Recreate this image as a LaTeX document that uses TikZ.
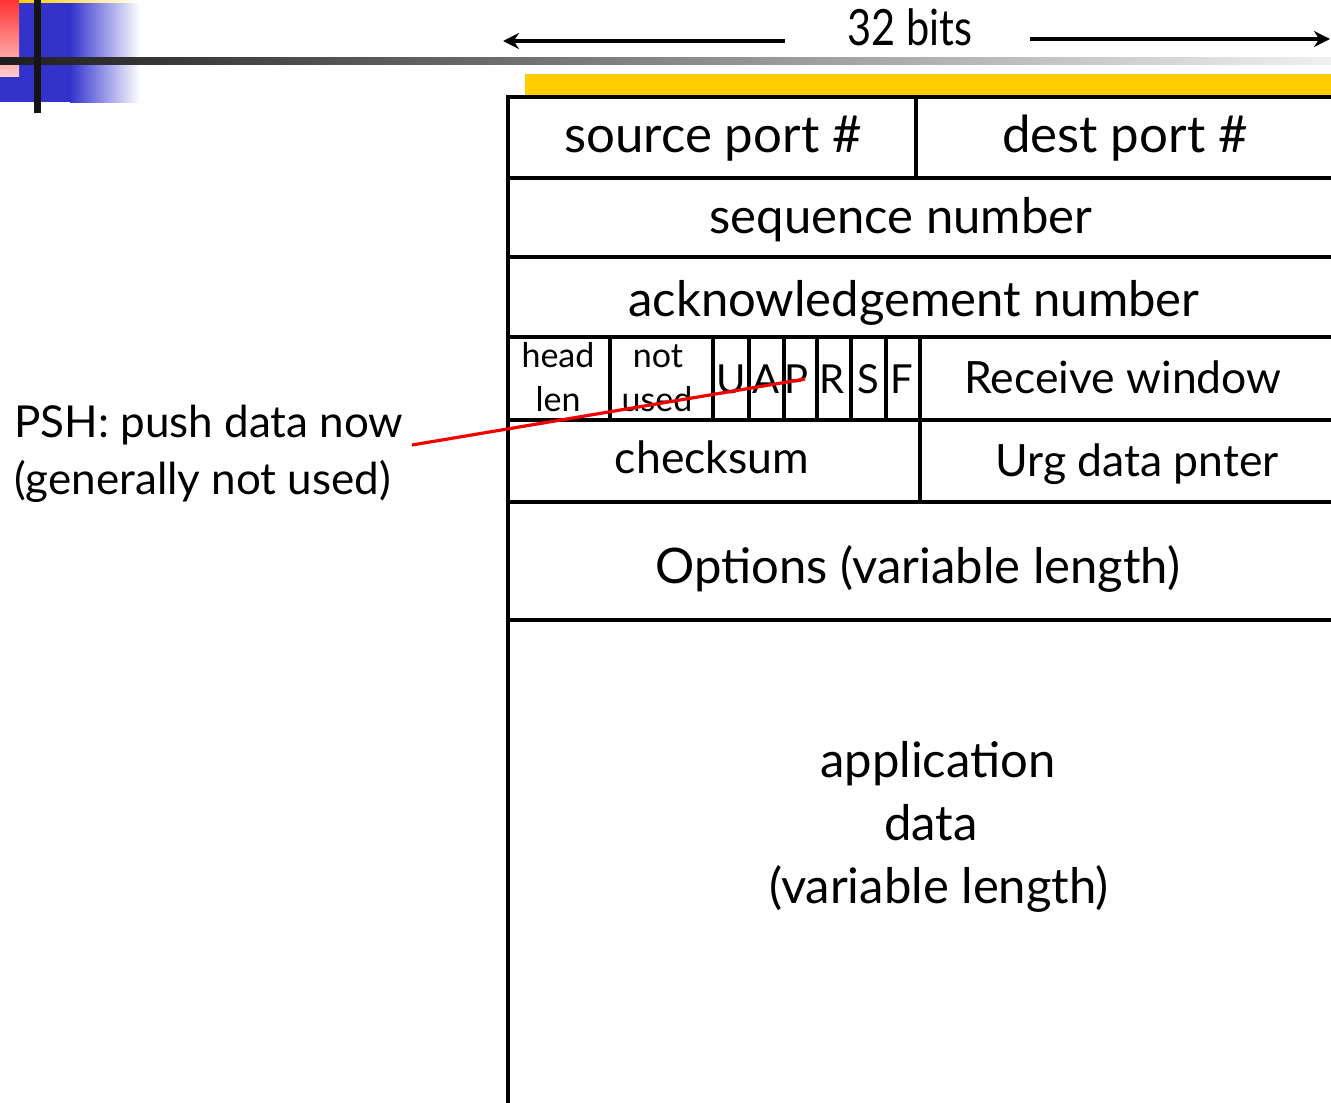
\documentclass[tikz,border=0pt]{standalone}
\usepackage{fontspec}
\setmainfont{Lato}
\usetikzlibrary{arrows.meta}
\begin{document}
\begin{tikzpicture}[x=1pt,y=-1pt,
  tline/.style={line width=3.5pt,black},
  port/.style={font=\fontsize{51}{56}\selectfont,inner sep=0pt,anchor=base},
  big/.style={font=\fontsize{49}{54}\selectfont,inner sep=0pt,anchor=base},
  mid/.style={font=\fontsize{44.5}{50}\selectfont,inner sep=0pt,anchor=base},
  side/.style={font=\fontsize{44}{50}\selectfont,inner sep=0pt,anchor=base west},
  small/.style={font=\fontsize{34}{38}\selectfont,inner sep=0pt,anchor=base},
  flag/.style={font=\fontsize{40}{44}\selectfont,inner sep=0pt,anchor=base},
  dimarrow/.style={line width=3.5pt,-{Stealth[length=16pt,width=16pt]}}]
\useasboundingbox (0,0) rectangle (1331,1103);
% decoration
\fill[color={rgb,255:red,51;green,51;blue,204}] (0,0) rectangle (70,102);
\shade[left color={rgb,255:red,51;green,51;blue,204},right color=white] (70,0) rectangle (140,102);
\shade[top color={rgb,255:red,255;green,51;blue,51},bottom color={rgb,255:red,255;green,205;blue,205}] (0,0) rectangle (19,76);
\shade[left color={rgb,255:red,255;green,204;blue,0},right color=white] (19,0) rectangle (140,2);
\shade[left color={rgb,255:red,30;green,30;blue,30},right color={rgb,255:red,240;green,240;blue,240}] (0,57) rectangle (1331,64);
\fill[color={rgb,255:red,20;green,20;blue,20}] (34,0) rectangle (41,113);
% yellow bar
\fill[color={rgb,255:red,255;green,204;blue,0}] (525,74) rectangle (1331,96);
% 32 bits
\node[font=\fontsize{50}{56}\selectfont,inner sep=0pt,anchor=base,xscale=0.83] (bits) at (910,45) {32 bits};
\coordinate (la) at (785,41);
\coordinate (lt) at (503,41);
\coordinate (ra) at (1030,39);
\coordinate (rt) at (1330,39);
\draw[dimarrow] (la) -- (lt);
\draw[dimarrow] (ra) -- (rt);
% table
\draw[tline] (1331,97) -- (508,97) -- (508,1103);
\foreach \y in {178,257,337,420,502,620} \draw[tline] (508,\y) -- (1331,\y);
\draw[tline] (916,97) -- (916,178);
\foreach \x in {610,713,749,784,817,851,886,920} \draw[tline] (\x,337) -- (\x,420);
\draw[tline] (920,420) -- (920,502);
% texts
\node[port] (src) at (713,152) {source port \#};
\node[port] (dst) at (1125,152) {dest port \#};
\node[big] (seq) at (901,233) {sequence number};
\node[big] (ack) at (914,316) {acknowledgement number};
\node[small] (head) at (558,367) {head};
\node[small] (len) at (558,411) {len};
\node[small] (not) at (658,367) {not};
\node[small] (used) at (657,411) {used};
\node[flag] (fu) at (731,393) {U};
\node[flag] (fa) at (766,393) {A};
\node[flag] (fp) at (797,393) {P};
\node[flag] (fr) at (832,393) {R};
\node[flag] (fs) at (868,393) {S};
\node[flag] (ff) at (902,393) {F};
\node[mid] (rwin) at (1123,393) {Receive window};
\node[mid] (cks) at (712,473) {checksum};
\node[mid] (urg) at (1137,476) {Urg data pnter};
\node[big] (opt) at (918,583) {Options (variable length)};
\node[big] (app) at (938,777) {application};
\node[big] (data) at (931,840) {data};
\node[big] (varl) at (939,903) {(variable length)};
\node[side] (psh) at (14,437) {PSH: push data now};
\node[side] (gen) at (14,494) {(generally not used)};
% connector
\coordinate (pshend) at (412,445);
\coordinate (pflag) at (805,379);
\draw[line width=3.2pt,color={rgb,255:red,240;green,0;blue,0}] (pshend) -- (pflag);
\end{tikzpicture}
\end{document}
